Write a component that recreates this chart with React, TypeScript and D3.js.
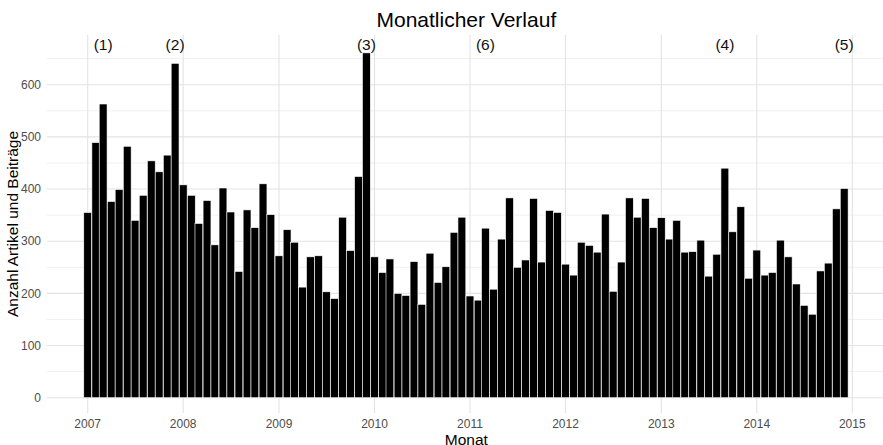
import * as d3 from "d3";
import React from "react";

// monthly counts, Jan..Dec
const v2007 = [355, 489, 563, 376, 399, 482, 340, 388, 454, 433, 465, 641];
const v2008 = [408, 388, 334, 378, 293, 402, 356, 242, 360, 326, 410, 351];
const v2009 = [272, 322, 298, 212, 270, 272, 203, 190, 346, 282, 424, 661];
const v2010 = [270, 240, 266, 200, 196, 261, 179, 277, 221, 251, 317, 346];
const v2011 = [195, 187, 325, 208, 304, 383, 250, 264, 382, 260, 359, 355];
const v2012 = [256, 235, 298, 292, 279, 352, 204, 260, 383, 346, 382, 326];
const v2013 = [345, 304, 340, 279, 280, 302, 233, 275, 440, 318, 366, 229];
const v2014 = [283, 235, 240, 302, 270, 218, 177, 160, 243, 258, 362, 401];

const years = [2007, 2008, 2009, 2010, 2011, 2012, 2013, 2014];
const yearValues = [v2007, v2008, v2009, v2010, v2011, v2012, v2013, v2014];

const markerLabels = ["(1)", "(2)", "(3)", "(6)", "(4)", "(5)"];
const markerMonths = ["2007-03", "2007-12", "2009-12", "2011-03", "2013-09", "2014-12"];

const yTicks = [0, 100, 200, 300, 400, 500, 600];
const yMinor = [50, 150, 250, 350, 450, 550, 650];
const xTickYears = [2007, 2008, 2009, 2010, 2011, 2012, 2013, 2014, 2015];

const font = "'Liberation Sans', Arial, Helvetica, sans-serif";

export default function App() {
    const width = 883;
    const height = 445;

    const data = years.flatMap((yr, i) =>
        yearValues[i].map((v, m) => ({date: new Date(yr, m, 1), value: v}))
    );

    const x = d3.scaleTime()
        .domain([new Date(2007, 0, 1), new Date(2015, 0, 1)])
        .range([87.7, 852.3]);
    const y = d3.scaleLinear().domain([0, 600]).range([397.7, 84.7]);

    const panel = {left: 46.7, right: 886, top: 35, bottom: 413};
    const parseMonth = d3.timeParse("%Y-%m");

    const barLeft = d => x(d3.timeHour.offset(d.date, -15 * 24));
    const barRight = d => x(d3.timeHour.offset(d.date, 15 * 24));

    return (
        <svg width={width} height={height}
             style={{position: "absolute", left: 0, top: 0, background: "#fff"}}
             fontFamily={font}>
            {/* grid */}
            {yMinor.map(t => (
                <line key={"mn" + t} x1={panel.left} x2={panel.right} y1={y(t)} y2={y(t)}
                      stroke="#f0f0f0" strokeWidth={1}/>
            ))}
            {yTicks.map(t => (
                <line key={"mj" + t} x1={panel.left} x2={panel.right} y1={y(t)} y2={y(t)}
                      stroke="#e3e3e3" strokeWidth={1.1}/>
            ))}
            {xTickYears.map(yr => (
                <line key={"vx" + yr} x1={x(new Date(yr, 0, 1))} x2={x(new Date(yr, 0, 1))}
                      y1={panel.top} y2={panel.bottom} stroke="#e3e3e3" strokeWidth={1.1}/>
            ))}

            {/* bars */}
            {data.map((d, i) => (
                <rect key={i}
                      x={barLeft(d)}
                      width={barRight(d) - barLeft(d)}
                      y={y(d.value)}
                      height={y(0) - y(d.value)}
                      fill="#000"
                      stroke="#ffffff"
                      strokeWidth={0.6}/>
            ))}

            {/* markers */}
            {markerLabels.map((lab, i) => (
                <text key={lab} x={x(parseMonth(markerMonths[i]))} y={50}
                      textAnchor="middle" fontSize={15.5} fill="#111">{lab}</text>
            ))}

            {/* y axis labels */}
            {yTicks.map(t => (
                <text key={"yl" + t} x={41} y={y(t)} dy="0.35em" textAnchor="end"
                      fontSize={12} fill="#4d4d4d">{t}</text>
            ))}
            {/* x axis labels */}
            {xTickYears.map(yr => (
                <text key={"xl" + yr} x={x(new Date(yr, 0, 1))} y={427.5} textAnchor="middle"
                      fontSize={12} fill="#4d4d4d">{yr}</text>
            ))}

            {/* titles */}
            <text x={(panel.left + panel.right) / 2} y={27} textAnchor="middle"
                  fontSize={21} fill="#000">Monatlicher Verlauf</text>
            <text x={(panel.left + panel.right) / 2} y={444.8} textAnchor="middle"
                  fontSize={15.5} fill="#000">Monat</text>
            <text transform={`translate(18, ${(panel.top + panel.bottom) / 2}) rotate(-90)`}
                  textAnchor="middle" fontSize={15.5} fill="#000">Anzahl Artikel und Beiträge</text>
        </svg>
    );
}
